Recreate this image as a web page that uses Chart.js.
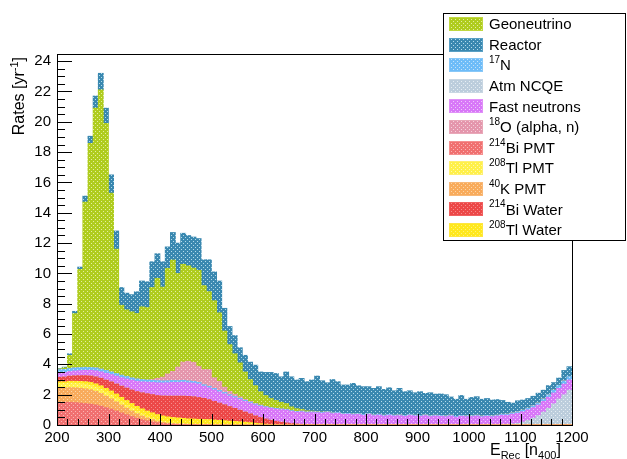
<!DOCTYPE html>
<html>
<head>
<meta charset="utf-8">
<script src="https://cdn.jsdelivr.net/npm/chart.js@4/dist/chart.umd.min.js"></script>
<style>
html, body { margin: 0; background: #fff; }
</style>
</head>
<body>
<canvas id="c" width="627" height="459"></canvas>
<script>
// 100 bins of 10 from 200 to 1200, values are bin centres
var binCenters = Array.from({length: 100}, (_, i) => 205 + 10 * i);
var xTicks = [200, 300, 400, 500, 600, 700, 800, 900, 1000, 1100, 1200];
var yTicks = [0, 2, 4, 6, 8, 10, 12, 14, 16, 18, 20, 22, 24];

// rates per bin [yr^-1], bottom of the stack first
var bi214Pmt = [1.5,1.5,1.5,1.48,1.45,1.42,1.38,1.33,1.25,1.15,
  1.05,0.93,0.8,0.68,0.56,0.45,0.36,0.28,0.21,0.15,
  0.1,0.07,0.05,0.04,0.03,0.02,0.02,0.01,0.01,0.01,
  0,0,0,0,0,0,0,0,0,0, 0,0,0,0,0,0,0,0,0,0, 0,0,0,0,0,0,0,0,0,0,
  0,0,0,0,0,0,0,0,0,0, 0,0,0,0,0,0,0,0,0,0, 0,0,0,0,0,0,0,0,0,0,
  0,0,0,0,0,0,0,0,0,0];
var k40Pmt = [0.95,0.95,0.97,0.98,0.98,0.97,0.95,0.9,0.84,0.76,
  0.68,0.6,0.52,0.44,0.37,0.3,0.24,0.19,0.15,0.11,
  0.08,0.06,0.05,0.04,0.04,0.03,0.03,0.03,0.03,0.03,
  0.03,0.03,0.03,0.02,0.02,0.02,0.02,0.02,0.01,0.01,
  0,0,0,0,0,0,0,0,0,0, 0,0,0,0,0,0,0,0,0,0, 0,0,0,0,0,0,0,0,0,0,
  0,0,0,0,0,0,0,0,0,0, 0,0,0,0,0,0,0,0,0,0, 0,0,0,0,0,0,0,0,0,0];
var tl208Pmt = [0.3,0.3,0.3,0.3,0.3,0.3,0.29,0.28,0.27,0.26,
  0.25,0.23,0.21,0.19,0.17,0.15,0.13,0.11,0.1,0.08,
  0.07,0.06,0.05,0.04,0.03,0.02,0.02,0.01,0.01,0.01,
  0,0,0,0,0,0,0,0,0,0, 0,0,0,0,0,0,0,0,0,0, 0,0,0,0,0,0,0,0,0,0,
  0,0,0,0,0,0,0,0,0,0, 0,0,0,0,0,0,0,0,0,0, 0,0,0,0,0,0,0,0,0,0,
  0,0,0,0,0,0,0,0,0,0];
var tl208Water = [0.1,0.1,0.12,0.13,0.15,0.17,0.19,0.21,0.23,0.25,
  0.27,0.29,0.3,0.31,0.32,0.33,0.34,0.35,0.35,0.35,
  0.35,0.35,0.35,0.35,0.34,0.34,0.33,0.33,0.32,0.31,
  0.3,0.28,0.26,0.24,0.22,0.2,0.17,0.14,0.11,0.08,
  0.06,0.04,0.03,0.02,0.01,0,0,0,0,0,
  0,0,0,0,0,0,0,0,0,0, 0,0,0,0,0,0,0,0,0,0, 0,0,0,0,0,0,0,0,0,0,
  0,0,0,0,0,0,0,0,0,0, 0,0,0,0,0,0,0,0,0,0];
var bi214Water = [0.3,0.32,0.34,0.36,0.38,0.4,0.43,0.46,0.5,0.55,
  0.6,0.66,0.74,0.82,0.9,0.98,1.06,1.14,1.2,1.26,
  1.32,1.37,1.41,1.44,1.47,1.48,1.47,1.44,1.39,1.32,
  1.23,1.14,1.05,0.96,0.86,0.76,0.67,0.58,0.49,0.41,
  0.34,0.28,0.22,0.17,0.13,0.1,0.07,0.05,0.03,0.02,
  0.01,0.01,0,0,0,0,0,0,0,0,
  0,0,0,0,0,0,0,0,0,0, 0,0,0,0,0,0,0,0,0,0, 0,0,0,0,0,0,0,0,0,0,
  0,0,0,0,0,0,0,0,0,0];
var atmNcqe = [0,0,0,0,0,0,0,0,0,0, 0,0,0,0,0,0,0,0,0,0, 0,0,0,0,0,0,0,0,0,0,
  0,0,0,0,0,0,0,0,0,0, 0,0,0,0,0,0,0,0,0,0, 0,0,0,0,0,0,0,0,0,0,
  0,0,0,0,0,0,0,0,0,0, 0,0,0,0,0,0,0,0,0,0, 0,0,0,0,0,0,
  0.03,0.05,0.08,0.12,0.2,0.3,0.45,0.62,0.85,1.1,1.4,1.72,2.0,2.3];
var fastNeutrons = [0.3,0.3,0.3,0.32,0.33,0.35,0.37,0.4,0.42,0.45,
  0.48,0.52,0.56,0.6,0.64,0.68,0.72,0.76,0.8,0.84,
  0.86,0.88,0.9,0.9,0.92,0.9,0.9,0.88,0.8,0.78,
  0.76,0.74,0.72,0.7,0.7,0.7,0.7,0.7,0.72,0.74,
  0.76,0.78,0.8,0.82,0.85,0.8,0.78,0.82,0.78,0.8,
  0.8,0.78,0.82,0.75,0.78,0.7,0.72,0.68,0.7,0.65,
  0.7,0.62,0.66,0.6,0.65,0.6,0.62,0.58,0.64,0.6,
  0.58,0.62,0.56,0.6,0.58,0.55,0.6,0.52,0.58,0.55,
  0.56,0.6,0.54,0.58,0.55,0.6,0.62,0.6,0.64,0.66,
  0.68,0.7,0.7,0.7,0.72,0.74,0.72,0.7,0.7,0.67];
var n17 = [0.2,0.2,0.2,0.2,0.2,0.2,0.19,0.19,0.18,0.18,
  0.17,0.17,0.16,0.16,0.15,0.15,0.15,0.14,0.14,0.14,
  0.13,0.13,0.13,0.12,0.12,0.12,0.11,0.11,0.1,0.1,
  0.1,0.09,0.09,0.08,0.08,0.08,0.07,0.07,0.06,0.06,
  0.05,0.05,0.05,0.05,0.05,0.05,0.05,0.05,0.05,0.05,
  0.05,0.05,0.05,0.05,0.05,0.05,0.05,0.05,0.05,0.05,
  0.05,0.05,0.05,0.05,0.05,0.05,0.05,0.05,0.05,0.05,
  0.05,0.05,0.05,0.05,0.05,0.05,0.05,0.05,0.05,0.05,
  0.05,0.05,0.05,0.05,0.05,0.05,
  0.06,0.07,0.08,0.09,0.1,0.11,0.12,0.13,0.15,0.16,0.18,0.2,0.21,0.23];
var o18 = [0,0,0,0,0,0,0,0,0,0, 0,0,0,0,0,0,0,0,
  0.05,0.15,0.25,0.45,0.6,0.9,1.2,1.3,1.25,1.05,1.0,1.1,0.7,0.6,0.35,0.22,0.15,0.1,0.07,0.05,0.03,0.02,0.01,
  0,0,0,0,0,0,0,0,0, 0,0,0,0,0,0,0,0,0,0, 0,0,0,0,0,0,0,0,0,0,
  0,0,0,0,0,0,0,0,0,0, 0,0,0,0,0,0,0,0,0,0, 0,0,0,0,0,0,0,0,0,0];
var geoneutrino = [0.05,0.1,0.87,3.58,6.48,10.89,14.77,17.13,18.41,16.3,
  11.8,8.2,4.61,4.4,4.36,4.32,4.8,4.78,6.07,6.59,
  5.94,6.96,7.34,6.17,6.45,6.29,6.22,6.34,5.54,5.14,
  5.08,4.52,3.7,3.08,2.67,2.24,1.8,1.44,1.18,0.88,
  0.73,0.6,0.52,0.44,0.38,0.25,0.18,0.12,0.08,0.05,
  0.03,0.02,0.01,0,0,0,0,0,0,0,
  0,0,0,0,0,0,0,0,0,0, 0,0,0,0,0,0,0,0,0,0, 0,0,0,0,0,0,0,0,0,0,
  0,0,0,0,0,0,0,0,0,0];
var reactor = [0.02,0.05,0.1,0.15,0.15,0.4,0.48,0.8,1.1,1.0,
  1.2,1.2,1.17,1.1,1.13,1.43,1.7,1.7,1.7,1.63,
  1.67,1.42,1.82,2.0,2.05,2.0,2.05,2.1,1.7,2.1,
  1.9,2.1,1.5,1.2,1.2,1.0,1.1,1.15,1.35,1.3,
  1.52,1.72,1.78,1.68,2.08,1.98,1.89,2.04,1.92,2.05,
  2.34,2.06,1.91,2.2,2.03,1.89,1.87,2.02,1.84,1.83,
  1.78,1.75,1.82,1.7,1.76,1.61,1.75,1.57,1.57,1.48,
  1.57,1.42,1.52,1.39,1.42,1.4,1.2,1.13,1.32,1.1,
  1.21,1.22,1.11,1.12,1.05,1.03,0.91,0.78,0.65,0.73,
  0.67,0.64,0.63,0.65,0.58,0.6,0.5,0.48,0.69,0.65];

var font = "'Liberation Sans', Arial, Helvetica, sans-serif";

// ROOT-like dotted fill
function hatch(base, dot) {
  var c = document.createElement('canvas');
  c.width = 4; c.height = 4;
  var g = c.getContext('2d');
  g.fillStyle = base; g.fillRect(0, 0, 4, 4);
  g.fillStyle = dot; g.fillRect(1, 1, 1, 1); g.fillRect(3, 3, 1, 1);
  return g.createPattern(c, 'repeat');
}

// stack order bottom -> top, legend order kept separately
var series = [
  {key: 'bi214Pmt',  data: bi214Pmt,     label: [['214', 1], ['Bi PMT']],       base: '#f07070', dot: '#fbb4b4', line: '#f59090'},
  {key: 'k40Pmt',    data: k40Pmt,       label: [['40', 1], ['K PMT']],         base: '#f8ab5c', dot: '#fcd6a8', line: '#f8b878'},
  {key: 'tl208Pmt',  data: tl208Pmt,     label: [['208', 1], ['Tl PMT']],       base: '#fff04a', dot: '#fffab0', line: '#fff070'},
  {key: 'tl208Water',data: tl208Water,   label: [['208', 1], ['Tl Water']],     base: '#ffe81e', dot: '#fff27a', line: '#ffe640'},
  {key: 'bi214Water',data: bi214Water,   label: [['214', 1], ['Bi Water']],     base: '#ec4848', dot: '#f68c8c', line: '#f06060'},
  {key: 'atmNcqe',   data: atmNcqe,      label: [['Atm NCQE']],                 base: '#bccddc', dot: '#e6eef4', line: '#c8d6e2'},
  {key: 'fastN',     data: fastNeutrons, label: [['Fast neutrons']],            base: '#d878f8', dot: '#f0c8fc', line: '#e090f8'},
  {key: 'n17',       data: n17,          label: [['17', 1], ['N']],             base: '#6ebcf8', dot: '#c4e4fc', line: '#88c8f8'},
  {key: 'o18',       data: o18,          label: [['18', 1], ['O (alpha, n)']],  base: '#e496ac', dot: '#f6d2dc', line: '#e8a8b8'},
  {key: 'geo',       data: geoneutrino,  label: [['Geoneutrino']],              base: '#afcc1e', dot: '#e4f0a0', line: '#c0d840'},
  {key: 'reactor',   data: reactor,      label: [['Reactor']],                  base: '#3a88b0', dot: '#b4dcec', line: '#5aa0c4'}
];
var legendOrder = ['geo', 'reactor', 'n17', 'atmNcqe', 'fastN', 'o18', 'bi214Pmt', 'tl208Pmt', 'k40Pmt', 'bi214Water', 'tl208Water'];

series.forEach(function (s) { s.fill = hatch(s.base, s.dot); });

var datasets = series.map(function (s) {
  return {
    label: s.key,
    data: s.data.map(function (v, i) { return {x: binCenters[i], y: v}; }),
    backgroundColor: s.fill,
    borderWidth: 0,
    barPercentage: 1,
    categoryPercentage: 1
  };
});

function drawRich(ctx, parts, x, y, size) {
  parts.forEach(function (p) {
    var small = p[1] === 1 || p[1] === -1;
    ctx.font = (small ? Math.round(size * 0.68) : size) + 'px ' + font;
    var dy = p[1] === 1 ? -size * 0.38 : (p[1] === -1 ? size * 0.28 : 0);
    ctx.fillText(p[0], x, y + dy);
    x += ctx.measureText(p[0]).width;
  });
  return x;
}
function richWidth(ctx, parts, size) {
  var w = 0;
  parts.forEach(function (p) {
    var small = p[1] === 1 || p[1] === -1;
    ctx.font = (small ? Math.round(size * 0.68) : size) + 'px ' + font;
    w += ctx.measureText(p[0]).width;
  });
  return w;
}

var rootStyle = {
  id: 'rootStyle',
  afterDraw: function (chart) {
    var ctx = chart.ctx, a = chart.chartArea;
    var xs = chart.scales.x, ys = chart.scales.y;
    ctx.save();
    ctx.strokeStyle = '#000';
    ctx.lineWidth = 1;
    ctx.beginPath();
    // ticks inside the frame
    for (var v = 0; v <= 24.4; v += 0.5) {
      var py = Math.round(ys.getPixelForValue(v)) + 0.5;
      var len = (Math.abs(v / 2 - Math.round(v / 2)) < 1e-6) ? 15 : 8;
      ctx.moveTo(a.left, py); ctx.lineTo(a.left + len, py);
    }
    for (var e = 200; e <= 1200; e += 20) {
      var px = Math.round(xs.getPixelForValue(e)) + 0.5;
      var l2 = (e % 100 === 0) ? 11 : 6;
      ctx.moveTo(px, a.bottom); ctx.lineTo(px, a.bottom - l2);
    }
    ctx.stroke();
    ctx.strokeRect(Math.round(a.left) + 0.5, Math.round(a.top) + 0.5, Math.round(a.right - a.left), Math.round(a.bottom - a.top));

    ctx.fillStyle = '#000';
    ctx.textBaseline = 'alphabetic';
    // y title, rotated, right aligned to the top
    var yt = [['Rates [yr'], ['-1', 1], [']']];
    var wy = richWidth(ctx, yt, 16);
    ctx.save();
    ctx.translate(24, 57 + wy);
    ctx.rotate(-Math.PI / 2);
    drawRich(ctx, yt, 0, 0, 16);
    ctx.restore();
    // x title
    drawRich(ctx, [['E'], ['Rec', -1], [' [n'], ['400', -1], [']']], 490, 455, 16);

    // legend box
    ctx.fillStyle = '#fff';
    ctx.fillRect(443, 13, 183, 227);
    ctx.strokeRect(443.5, 13.5, 182, 227);
    ctx.textBaseline = 'middle';
    legendOrder.forEach(function (k, i) {
      var s = series.find(function (q) { return q.key === k; });
      var cy = 24 + i * 20.6;
      ctx.fillStyle = s.fill;
      ctx.fillRect(449, Math.round(cy - 7), 34, 14);
      ctx.strokeStyle = s.line;
      ctx.strokeRect(449.5, Math.round(cy - 7) + 0.5, 33, 13);
      ctx.fillStyle = '#000';
      drawRich(ctx, s.label, 489, cy + 1, 15);
    });
    ctx.restore();
  }
};

new Chart(document.getElementById('c'), {
  type: 'bar',
  data: {datasets: datasets},
  options: {
    responsive: false,
    animation: false,
    devicePixelRatio: 1,
    layout: {padding: {left: 0, top: 54, right: 55, bottom: 0}},
    plugins: {legend: {display: false}, tooltip: {enabled: false}},
    scales: {
      x: {
        type: 'linear', stacked: true, min: 200, max: 1200, offset: false,
        grid: {display: false, drawTicks: false}, border: {display: false},
        ticks: {color: '#000', font: {family: font, size: 15}, padding: 4, maxRotation: 0, autoSkip: false,
          callback: function (v) { return String(v); }},
        afterBuildTicks: function (s) { s.ticks = xTicks.map(function (v) { return {value: v}; }); },
        afterFit: function (s) { s.height = 34; }
      },
      y: {
        stacked: true, min: 0, max: 24.47,
        grid: {display: false, drawTicks: false}, border: {display: false},
        ticks: {color: '#000', font: {family: font, size: 15}, padding: 6, autoSkip: false},
        afterBuildTicks: function (s) { s.ticks = yTicks.map(function (v) { return {value: v}; }); },
        afterFit: function (s) { s.width = 57; }
      }
    }
  },
  plugins: [rootStyle]
});
</script>
</body>
</html>
